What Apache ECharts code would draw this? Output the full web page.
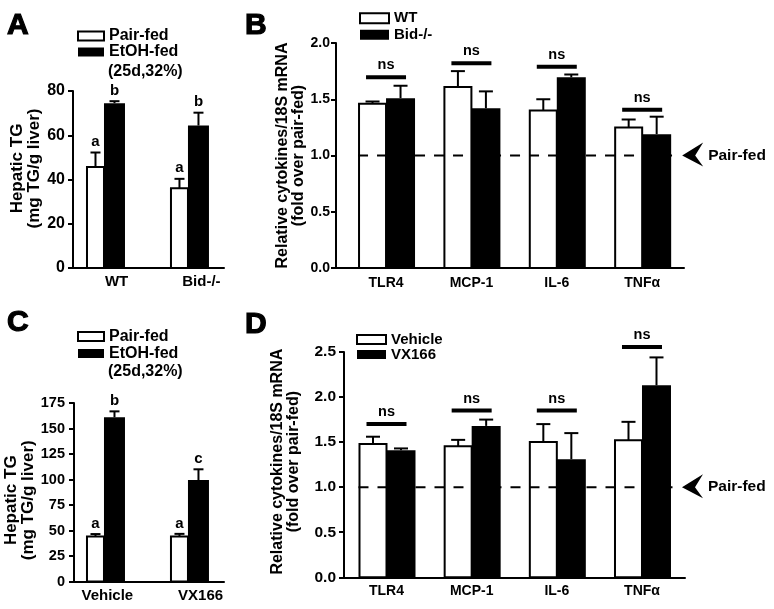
<!DOCTYPE html>
<html><head><meta charset="utf-8">
<script src="https://cdn.jsdelivr.net/npm/echarts@6/dist/echarts.min.js"></script>
<style>html,body{margin:0;padding:0;background:#fff}#c{width:774px;height:609px}</style>
</head><body><div id="c"></div>
<script>
// ---------- Panel A : Hepatic TG, WT vs Bid-/- ----------
const groupsA = ['WT', 'Bid-/-'];
const pairFedA = [45.6, 36.1];
const pairFedSemA = [6.6, 4.2];
const etohFedA = [74.5, 64.4];
const etohFedSemA = [0.9, 5.8];
const lettersPairA = ['a', 'a'];
const lettersEtohA = ['b', 'b'];

// ---------- Panel B : cytokines, WT vs Bid-/- ----------
const cytokines = ['TLR4', 'MCP-1', 'IL-6', 'TNFα'];
const wtB = [1.46, 1.61, 1.40, 1.25];
const wtSemB = [0.02, 0.14, 0.10, 0.07];
const bidB = [1.51, 1.42, 1.695, 1.19];
const bidSemB = [0.11, 0.15, 0.025, 0.155];
const nsLevelB = [1.695, 1.82, 1.79, 1.407];

// ---------- Panel C : Hepatic TG, Vehicle vs VX166 ----------
const groupsC = ['Vehicle', 'VX166'];
const pairFedC = [44.2, 44.2];
const pairFedSemC = [2.3, 2.5];
const etohFedC = [161, 99.5];
const etohFedSemC = [5.8, 10.5];
const lettersPairC = ['a', 'a'];
const lettersEtohC = ['b', 'c'];

// ---------- Panel D : cytokines, Vehicle vs VX166 ----------
const vehD = [1.48, 1.455, 1.50, 1.52];
const vehSemD = [0.08, 0.07, 0.20, 0.205];
const vxD = [1.41, 1.68, 1.31, 2.13];
const vxSemD = [0.02, 0.07, 0.29, 0.31];
const nsLevelD = [1.70, 1.85, 1.85, 2.555];

const pairFedBaseline = 1.0;

// ---------- styles ----------
const FONT = '"Liberation Sans", Arial, Helvetica, sans-serif';
const stTG = { whiteW: 17, blackW: 21, cap: 10 };
const stCy = { whiteW: 27, blackW: 29, cap: 14 };

function barSeries(name, k, values, sems, letters, white, st) {
  return {
    type: 'custom', name: name, xAxisIndex: k, yAxisIndex: k, clip: false,
    itemStyle: white ? { color: '#fff', borderColor: '#000', borderWidth: 2 } : { color: '#000' },
    encode: { x: 0, y: 1 },
    data: values.map((v, i) => [i, v, v + sems[i]]),
    renderItem(params, api) {
      const x = api.value(0), v = api.value(1), e = api.value(2);
      const base = api.coord([x, 0]), top = api.coord([x, v]), et = api.coord([x, e]);
      const w = white ? st.whiteW : st.blackW;
      const x0 = white ? base[0] - w : base[0];
      const cx = white ? base[0] - w / 2 : base[0] + w / 2;
      const ch = [
        { type: 'line', shape: { x1: cx, y1: top[1], x2: cx, y2: et[1] }, style: { stroke: '#000', lineWidth: 2 } },
        { type: 'line', shape: { x1: cx - st.cap / 2, y1: et[1], x2: cx + st.cap / 2, y2: et[1] }, style: { stroke: '#000', lineWidth: 2 } },
        { type: 'rect', shape: { x: x0, y: top[1], width: w, height: base[1] - top[1] },
          style: white ? { fill: '#fff', stroke: '#000', lineWidth: 2 } : { fill: '#000' } }
      ];
      const lab = letters ? letters[params.dataIndex] : '';
      if (lab) ch.push({ type: 'text', x: cx, y: et[1] - 3,
        style: { text: lab, fill: '#000', font: 'bold 15px ' + FONT, align: 'center', verticalAlign: 'bottom' } });
      return { type: 'group', children: ch };
    }
  };
}

function nsSeries(k, levels) {
  return {
    type: 'custom', xAxisIndex: k, yAxisIndex: k, clip: false, silent: true,
    encode: { x: 0, y: 1 },
    data: levels.map((v, i) => [i, v]),
    renderItem(params, api) {
      const c = api.coord([api.value(0), api.value(1)]);
      return { type: 'group', children: [
        { type: 'rect', shape: { x: c[0] - 20, y: c[1] - 2, width: 40, height: 4 }, style: { fill: '#000' } },
        { type: 'text', x: c[0], y: c[1] - 12, style: { text: 'ns', fill: '#000', font: 'bold 14.5px ' + FONT, align: 'center', verticalAlign: 'middle' } }
      ] };
    }
  };
}

function baselineSeries(k, n, st) {
  return {
    type: 'custom', xAxisIndex: k, yAxisIndex: k, clip: false, silent: true,
    encode: { x: [0, 1], y: 2 },
    data: [[0, n - 1, pairFedBaseline]],
    renderItem(params, api) {
      const a = api.coord([api.value(0), api.value(2)]);
      const b = api.coord([api.value(1), api.value(2)]);
      const y = a[1];
      const tip = b[0] + 40;
      return { type: 'group', children: [
        { type: 'line', shape: { x1: a[0] - st.whiteW - 1, y1: y, x2: b[0] + 31, y2: y },
          style: { stroke: '#000', lineWidth: 2, lineDash: [10, 9] } },
        { type: 'polygon', shape: { points: [[tip, y], [tip + 21, y - 13], [tip + 13, y], [tip + 21, y + 11]] }, style: { fill: '#000' } },
        { type: 'text', x: tip + 26, y: y, style: { text: 'Pair-fed', fill: '#000', font: 'bold 15.5px ' + FONT, align: 'left', verticalAlign: 'middle' } }
      ] };
    }
  };
}

function xAxis(k, min, max, names, labelPos, fontSize, margin) {
  return {
    type: 'value', gridIndex: k, min: min, max: max,
    axisLine: { show: true, onZero: false, lineStyle: { color: '#000', width: 2 } },
    axisTick: { show: false }, splitLine: { show: false },
    axisLabel: {
      customValues: labelPos, margin: margin,
      color: '#000', fontFamily: FONT, fontWeight: 'bold', fontSize: fontSize,
      formatter: v => { const i = labelPos.findIndex(p => Math.abs(p - v) < 1e-6); return i >= 0 ? names[i] : ''; }
    }
  };
}

function yAxis(k, max, interval, name, gap, nameSize, labelSize, margin, dec, namePad) {
  return {
    type: 'value', gridIndex: k, min: 0, max: max, interval: interval,
    axisLine: { show: true, onZero: false, lineStyle: { color: '#000', width: 2 } },
    axisTick: { show: true, length: 5, lineStyle: { color: '#000', width: 2 } },
    splitLine: { show: false },
    axisLabel: { color: '#000', fontFamily: FONT, fontWeight: 'bold', fontSize: labelSize, margin: margin,
      formatter: v => dec ? v.toFixed(1) : String(v) },
    name: name, nameLocation: 'middle', nameRotate: 90, nameGap: gap,
    nameTextStyle: { color: '#000', fontFamily: FONT, fontWeight: 'bold', fontSize: nameSize, lineHeight: nameSize, align: 'center', padding: namePad }
  };
}

function legend(left, top, names, iw, ih, lh, fs) {
  return {
    left: left, top: top, orient: 'vertical', itemWidth: iw, itemHeight: ih, itemGap: 0, padding: 0,
    icon: 'rect', selectedMode: false,
    textStyle: { color: '#000', fontFamily: FONT, fontWeight: 'bold', fontSize: fs, lineHeight: lh },
    data: [
      { name: names[0], icon: 'rect', itemStyle: { color: '#fff', borderColor: '#000', borderWidth: 2 } },
      { name: names[1], icon: 'rect', itemStyle: { color: '#000', borderWidth: 0 } }
    ]
  };
}

const titleStyle = { color: '#000', fontFamily: FONT, fontWeight: 'bold', fontSize: 30, textBorderColor: '#000', textBorderWidth: 1.2 };
const subStyle = { color: '#000', fontFamily: FONT, fontWeight: 'bold', fontSize: 16 };

const option = {
  backgroundColor: '#fff',
  animation: false,
  title: [
    { text: 'A', left: 7, top: 11, padding: 0, textStyle: titleStyle },
    { text: 'B', left: 245, top: 11, padding: 0, textStyle: titleStyle },
    { text: 'C', left: 7, top: 308, padding: 0, textStyle: titleStyle },
    { text: 'D', left: 245, top: 310, padding: 0, textStyle: titleStyle },
    { text: '(25d,32%)', left: 108, top: 64, padding: 0, textStyle: subStyle },
    { text: '(25d,32%)', left: 108, top: 364, padding: 0, textStyle: subStyle }
  ],
  legend: [
    legend(77, 28, ['Pair-fed', 'EtOH-fed'], 26, 9, 16, 16),
    legend(359, 10, ['WT', 'Bid-/-'], 29, 10, 16.5, 15),
    legend(77, 328, ['Pair-fed', 'EtOH-fed'], 26, 9, 17, 16),
    legend(356, 332, ['Vehicle', 'VX166'], 29, 9, 15, 15)
  ],
  grid: [
    { left: 73, top: 91, width: 151, height: 177 },
    { left: 336, top: 43, width: 348, height: 225 },
    { left: 74, top: 403, width: 150, height: 178.5 },
    { left: 344, top: 352, width: 341, height: 225.3 }
  ],
  xAxis: [
    xAxis(0, -0.369, 1.429, groupsA, [0.15, 1.16], 15, 6),
    xAxis(1, -0.586, 3.49, cytokines, [0, 1, 2, 3], 14, 8),
    xAxis(2, -0.357, 1.429, groupsC, [0.04, 1.15], 15, 7),
    xAxis(3, -0.499, 3.505, cytokines, [0, 1, 2, 3], 14, 7)
  ],
  yAxis: [
    yAxis(0, 80, 20, 'Hepatic TG\n(mg TG/g liver)', 30, 17, 16, 8, false, [0, 0, 0, 22]),
    yAxis(1, 2.0, 0.5, 'Relative cytokines/18S mRNA\n(fold over pair-fed)', 29, 16, 14, 6, true, 0),
    yAxis(2, 175, 25, 'Hepatic TG\n(mg TG/g liver)', 32, 17, 14.5, 9, false, [0, 16, 0, 0]),
    yAxis(3, 2.5, 0.5, 'Relative cytokines/18S mRNA\n(fold over pair-fed)', 42, 16, 15.5, 8, true, [0, 0, 0, 6])
  ],
  series: [
    barSeries('Pair-fed', 0, pairFedA, pairFedSemA, lettersPairA, true, stTG),
    barSeries('EtOH-fed', 0, etohFedA, etohFedSemA, lettersEtohA, false, stTG),
    barSeries('WT', 1, wtB, wtSemB, null, true, stCy),
    barSeries('Bid-/-', 1, bidB, bidSemB, null, false, stCy),
    baselineSeries(1, cytokines.length, stCy),
    nsSeries(1, nsLevelB),
    barSeries('Pair-fed', 2, pairFedC, pairFedSemC, lettersPairC, true, stTG),
    barSeries('EtOH-fed', 2, etohFedC, etohFedSemC, lettersEtohC, false, stTG),
    barSeries('Vehicle', 3, vehD, vehSemD, null, true, stCy),
    barSeries('VX166', 3, vxD, vxSemD, null, false, stCy),
    baselineSeries(3, cytokines.length, stCy),
    nsSeries(3, nsLevelD)
  ]
};

const chart = echarts.init(document.getElementById('c'), null, { renderer: 'canvas' });
chart.setOption(option);
</script>
</body></html>
